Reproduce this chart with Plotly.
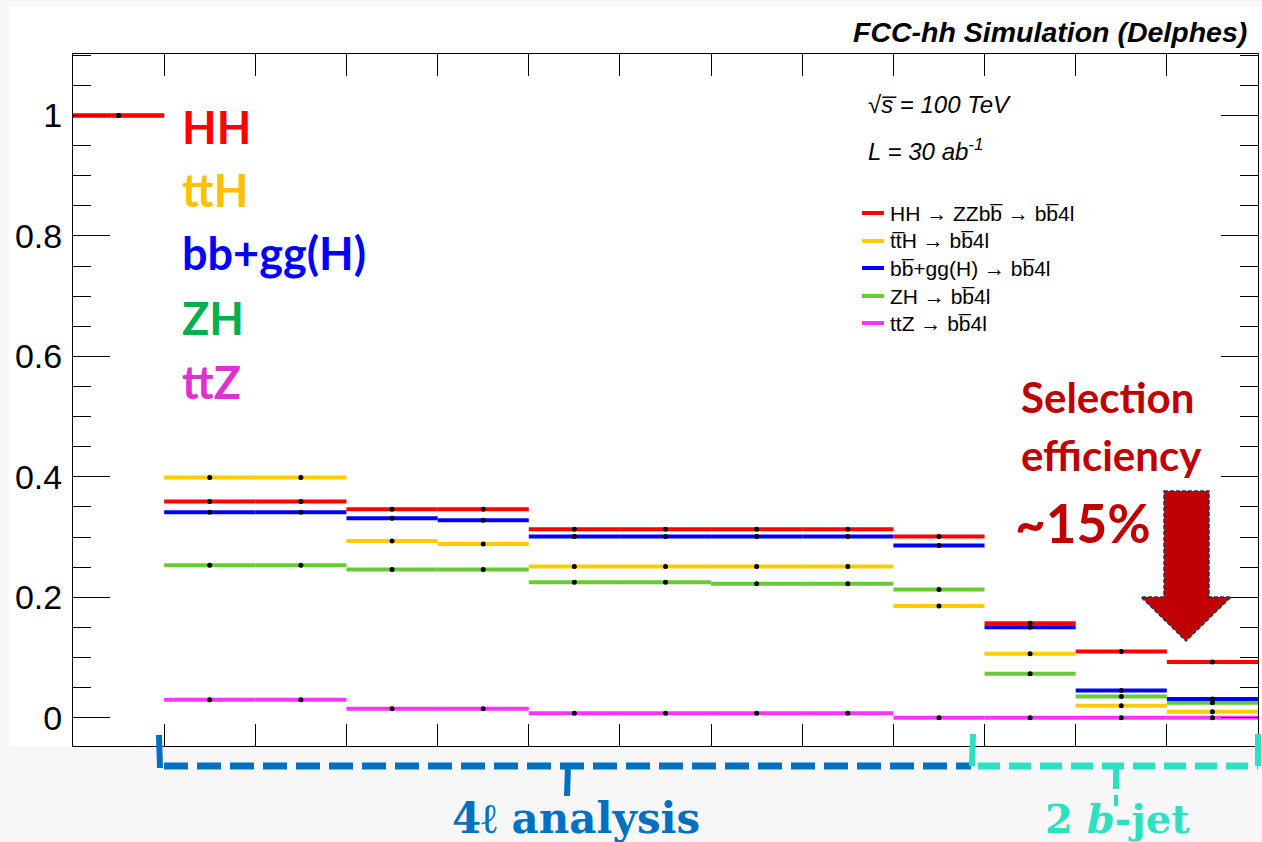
import plotly.graph_objects as go

# Cut-flow efficiencies per selection step (13 steps)
steps = list(range(13))
HH = [1.0, 0.359, 0.359, 0.346, 0.346, 0.313, 0.313, 0.313, 0.313, 0.301, 0.157, 0.110, 0.0925]
ttH = [1.0, 0.399, 0.399, 0.2935, 0.2885, 0.251, 0.251, 0.251, 0.251, 0.1855, 0.106, 0.020, 0.010]
bbggH = [1.0, 0.341, 0.341, 0.331, 0.328, 0.301, 0.301, 0.301, 0.301, 0.286, 0.150, 0.045, 0.031]
ZH = [1.0, 0.253, 0.253, 0.246, 0.246, 0.225, 0.225, 0.2226, 0.2226, 0.213, 0.073, 0.035, 0.025]
ttZ = [1.0, 0.030, 0.030, 0.015, 0.015, 0.0073, 0.0073, 0.0073, 0.0073, 0.0, 0.0, 0.0, 0.0]

series_names = ["HH", "ttH", "bb+gg(H)", "ZH", "ttZ"]
legend_texts = [
    "HH \u2192 ZZbb\u0305 \u2192 bb\u03054l",
    "tt\u0305H \u2192 bb\u03054l",
    "bb\u0305+gg(H) \u2192 bb\u03054l",
    "ZH \u2192 bb\u03054l",
    "ttZ \u2192 bb\u03054l",
]
line_colors = ["#ff0000", "#ffcc00", "#0000ff", "#66cc33", "#ff33ff"]
label_colors = ["#ff0000", "#ffc000", "#0000ff", "#00b050", "#e030d0"]
values = [HH, ttH, bbggH, ZH, ttZ]

W, H = 1262, 842
PL, PR, PT, PB = 73, 1258, 54, 746


def px(x):
    return (x - PL) / (PR - PL)


def py(y):
    return (PB - y) / (PB - PT)


fig = go.Figure()
centers = [s + 0.5 for s in steps]
# draw in reverse so HH sits on top
for name, vals, col in reversed(list(zip(series_names, values, line_colors))):
    fig.add_trace(go.Scatter(
        x=centers, y=vals, mode="markers", name=name,
        marker=dict(color="black", size=5),
        error_x=dict(type="constant", value=0.5, width=0, thickness=4, color=col),
        showlegend=False, cliponaxis=True,
    ))

shapes = []
annotations = []

# white canvas panel
shapes.append(dict(type="rect", xref="paper", yref="paper", x0=px(9), x1=px(1262),
                   y0=py(746), y1=py(7), fillcolor="white", line_width=0, layer="below"))

# in-frame legend
leg_y = [213, 241, 268, 296, 323]
for txt, col, yy in zip(legend_texts, line_colors, leg_y):
    shapes.append(dict(type="line", xref="paper", yref="paper", x0=px(862), x1=px(884),
                       y0=py(yy), y1=py(yy), line=dict(color=col, width=4)))
    annotations.append(dict(xref="paper", yref="paper", x=px(888), y=py(yy), text=txt,
                            showarrow=False, xanchor="left", yanchor="middle",
                            font=dict(family="Liberation Sans", size=21, color="black")))

annotations.append(dict(xref="paper", yref="paper", x=px(1249), y=py(32),
                        text="<b><i>FCC-hh Simulation (Delphes)</i></b>", showarrow=False,
                        xanchor="right", yanchor="middle",
                        font=dict(family="Liberation Sans", size=28.5, color="black")))
annotations.append(dict(xref="paper", yref="paper", x=px(866), y=py(104),
                        text="<i>\u221as\u0305 = 100 TeV</i>", showarrow=False,
                        xanchor="left", yanchor="middle",
                        font=dict(family="Liberation Sans", size=24, color="black")))
annotations.append(dict(xref="paper", yref="paper", x=px(866), y=py(150),
                        text="<i>L = 30 ab<sup>-1</sup></i>", showarrow=False,
                        xanchor="left", yanchor="middle",
                        font=dict(family="Liberation Sans", size=24, color="black")))

# process labels on the left
lab_y = [127, 190, 253, 318, 382]
for name, col, yy in zip(series_names, label_colors, lab_y):
    annotations.append(dict(xref="paper", yref="paper", x=px(180), y=py(yy),
                            text="<b>" + name + "</b>", showarrow=False,
                            xanchor="left", yanchor="middle",
                            font=dict(family="Lato", size=45, color=col)))

# selection efficiency callout
sel_col = "#c00000"
annotations.append(dict(xref="paper", yref="paper", x=px(1107), y=py(397),
                        text="<b>Selection</b>", showarrow=False, xanchor="center", yanchor="middle",
                        font=dict(family="Lato", size=42, color=sel_col)))
annotations.append(dict(xref="paper", yref="paper", x=px(1111), y=py(455),
                        text="<b>efficiency</b>", showarrow=False, xanchor="center", yanchor="middle",
                        font=dict(family="Lato", size=42, color=sel_col)))
annotations.append(dict(xref="paper", yref="paper", x=px(1083), y=py(522),
                        text="<b>~15%</b>", showarrow=False, xanchor="center", yanchor="middle",
                        font=dict(family="Lato", size=53, color=sel_col)))

arrow_pts = [(1164, 491), (1209, 491), (1209, 597), (1231, 597), (1186, 641),
             (1141, 597), (1164, 597)]
path = "M " + " L ".join(f"{px(a):.5f},{py(b):.5f}" for a, b in arrow_pts) + " Z"
shapes.append(dict(type="path", xref="paper", yref="paper", path=path,
                   fillcolor=sel_col, line=dict(color="#1f3b55", width=1.5, dash="4px,2px")))

# analysis brackets below the axis
blue = "#0070c0"
cyan = "#2ee0c2"
shapes += [
    dict(type="line", xref="paper", yref="paper", x0=px(164), x1=px(971), y0=py(766), y1=py(766),
         line=dict(color=blue, width=7, dash="24px,9px")),
    dict(type="line", xref="paper", yref="paper", x0=px(159), x1=px(160), y0=py(735), y1=py(768),
         line=dict(color=blue, width=6)),
    dict(type="line", xref="paper", yref="paper", x0=px(568), x1=px(567), y0=py(766), y1=py(796),
         line=dict(color=blue, width=6)),
    dict(type="line", xref="paper", yref="paper", x0=px(978), x1=px(1258), y0=py(766), y1=py(766),
         line=dict(color=cyan, width=7, dash="22px,9px")),
    dict(type="line", xref="paper", yref="paper", x0=px(973), x1=px(972), y0=py(734), y1=py(766),
         line=dict(color=cyan, width=6)),
    dict(type="line", xref="paper", yref="paper", x0=px(1258), x1=px(1258), y0=py(734), y1=py(766),
         line=dict(color=cyan, width=6)),
    dict(type="line", xref="paper", yref="paper", x0=px(1116), x1=px(1116), y0=py(766), y1=py(789),
         line=dict(color=cyan, width=6)),
    dict(type="line", xref="paper", yref="paper", x0=px(1116), x1=px(1116), y0=py(795), y1=py(806),
         line=dict(color=cyan, width=4)),
]
annotations.append(dict(xref="paper", yref="paper", x=px(576), y=py(818),
                        text="<b>4\u2113 analysis</b>", showarrow=False, xanchor="center", yanchor="middle",
                        font=dict(family="DejaVu Serif", size=42, color=blue)))
annotations.append(dict(xref="paper", yref="paper", x=px(1117), y=py(818),
                        text="<b>2 <i>b</i>-jet</b>", showarrow=False, xanchor="center", yanchor="middle",
                        font=dict(family="DejaVu Serif", size=40, color=cyan)))

fig.update_layout(
    width=W, height=H,
    margin=dict(l=PL, r=W - PR, t=PT, b=H - PB),
    paper_bgcolor="#f7f7f7", plot_bgcolor="white",
    shapes=shapes, annotations=annotations,
    xaxis=dict(range=[0, 13], tick0=0, dtick=1, ticks="inside", ticklen=22, tickcolor="black",
               showticklabels=False, showgrid=False, zeroline=False, showline=True,
               linecolor="black", linewidth=1, mirror="ticks"),
    yaxis=dict(range=[-0.047, 1.102], tick0=0, dtick=0.2, ticks="inside", ticklen=37,
               tickcolor="black", showgrid=False, zeroline=False, showline=True,
               linecolor="black", linewidth=1, mirror="ticks", ticklabelstandoff=3,
               tickfont=dict(family="Liberation Sans", size=34, color="black"),
               minor=dict(dtick=0.05, ticks="inside", ticklen=18, tickcolor="black", showgrid=False)),
)

fig.write_html("out.html")
